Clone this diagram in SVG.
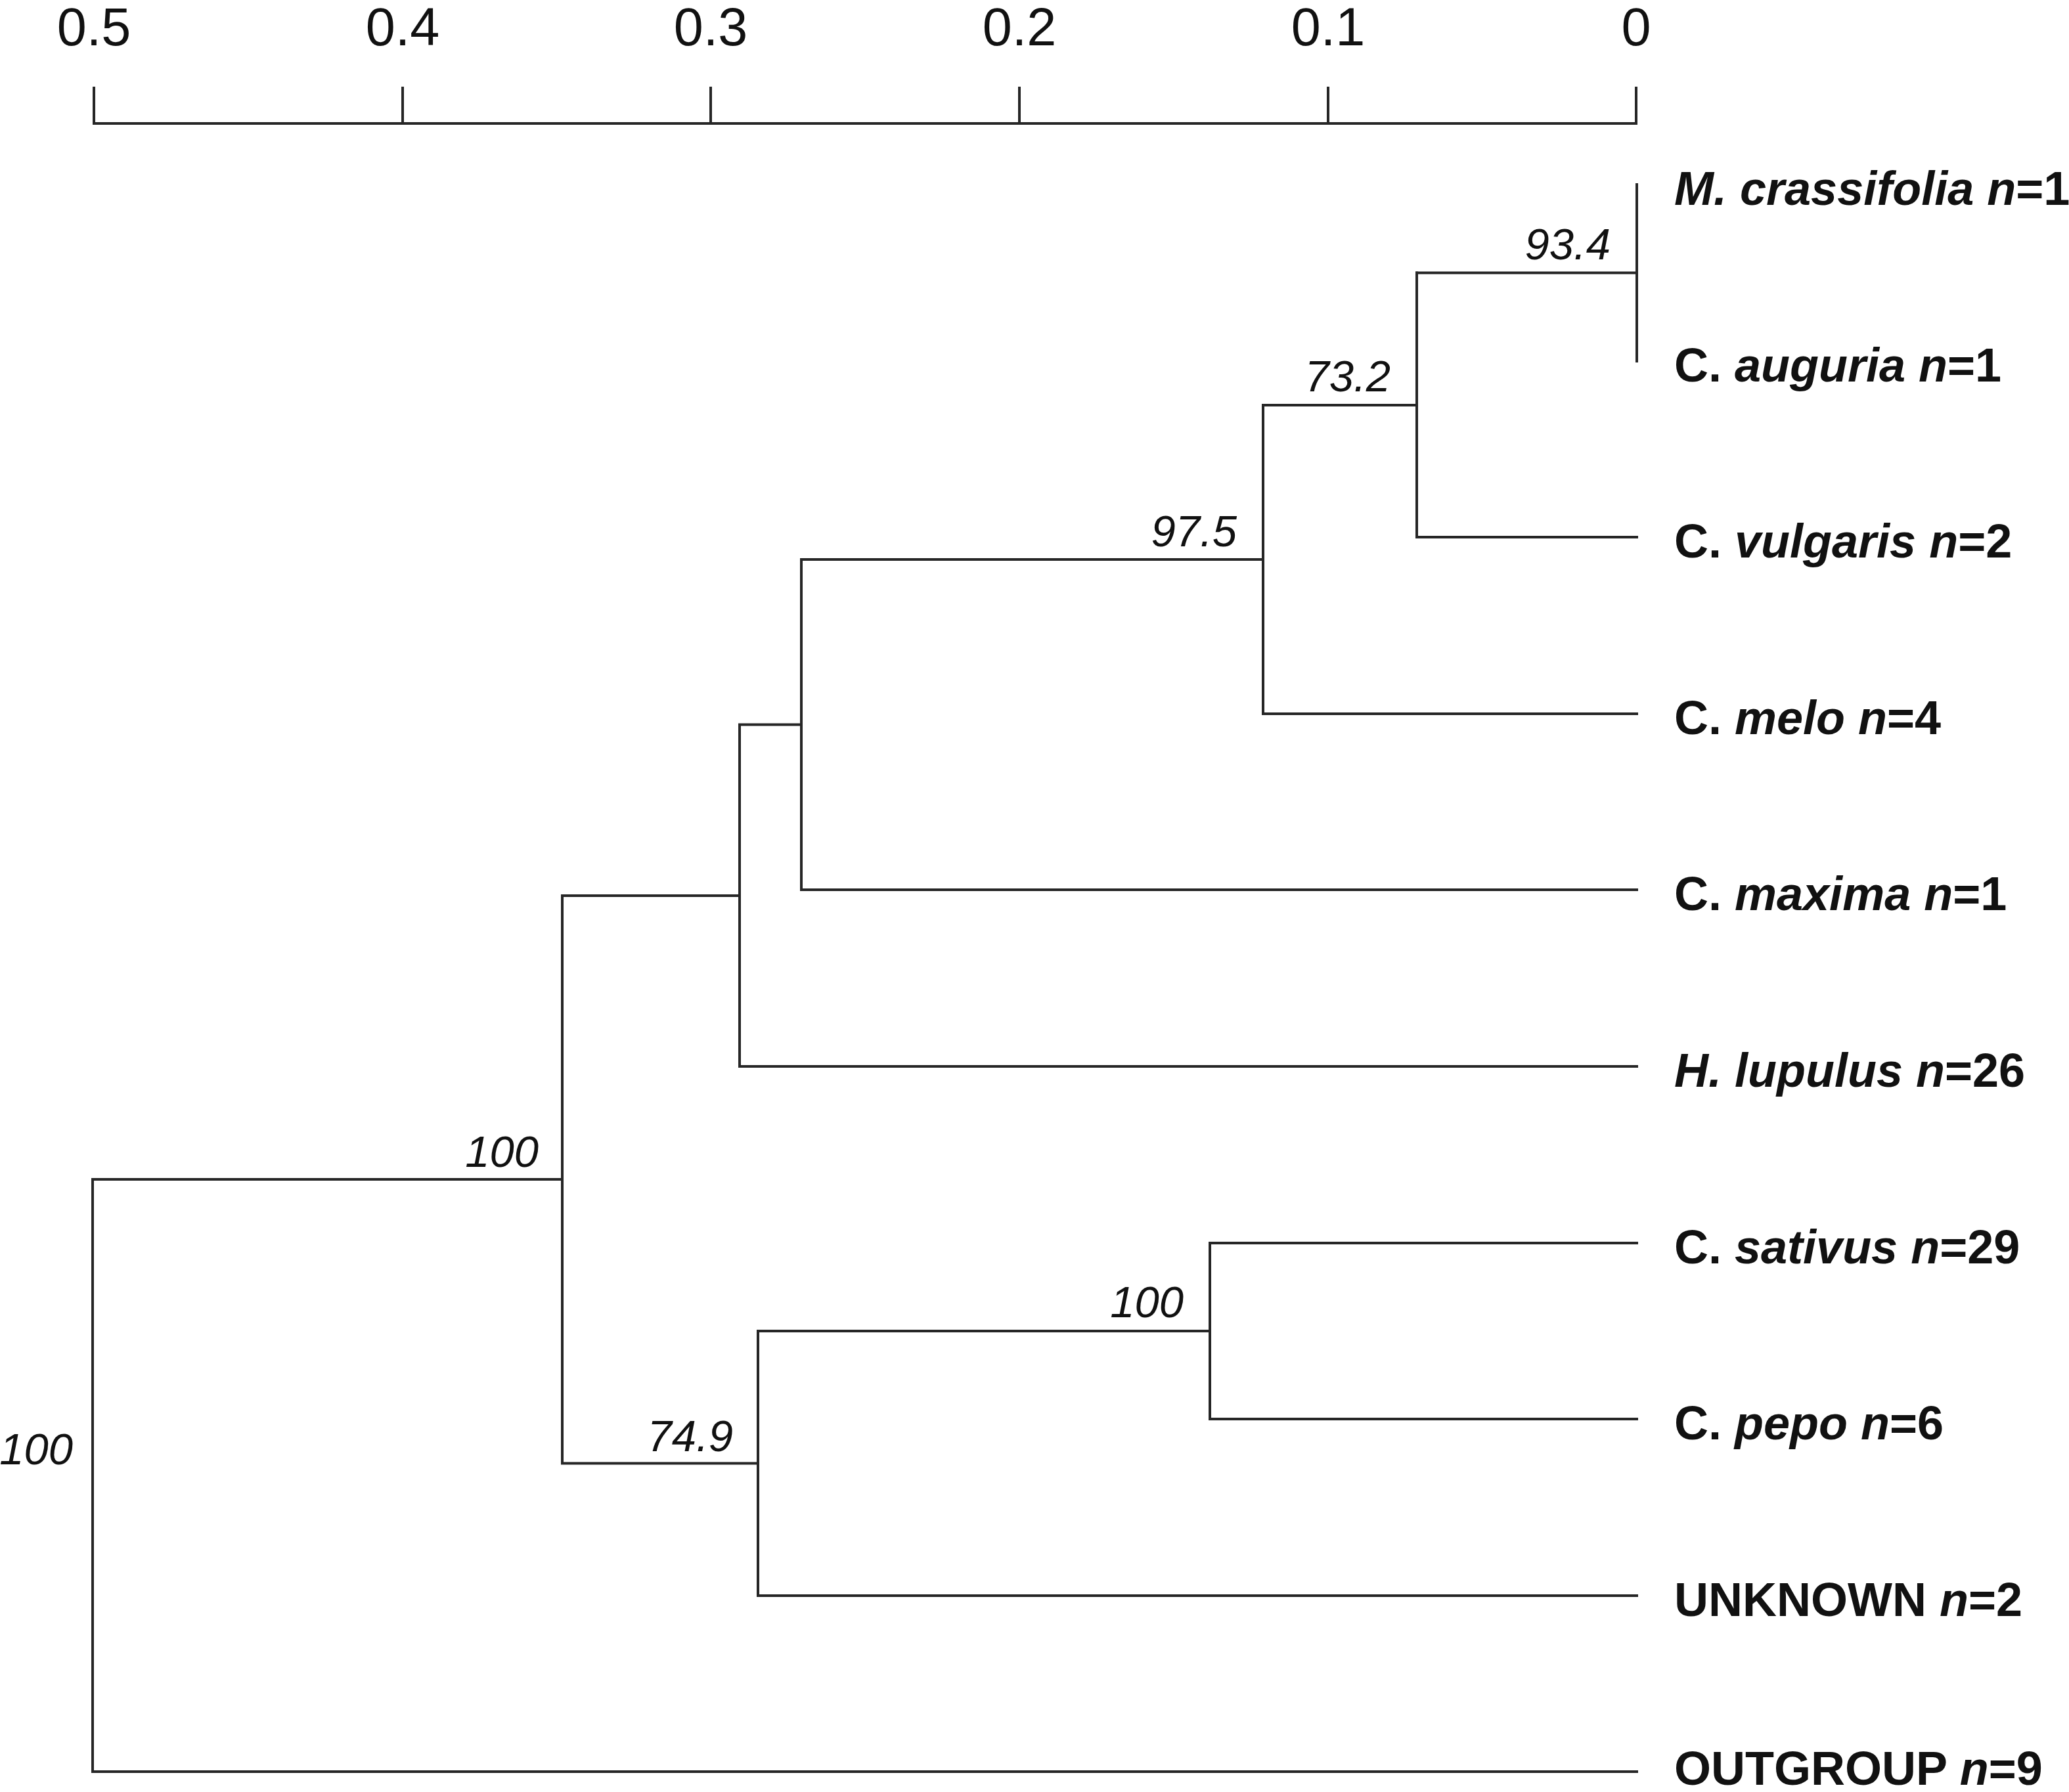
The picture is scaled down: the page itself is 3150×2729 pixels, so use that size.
<svg xmlns="http://www.w3.org/2000/svg" width="3150" height="2729" viewBox="0 0 3150 2729">
<style>
.ln{stroke:#262626;stroke-width:4;fill:none;stroke-linecap:square}
.ax{font-family:"Liberation Sans",Arial,sans-serif;font-size:81px;fill:#111;text-anchor:middle}
.bs{font-family:"Liberation Sans",Arial,sans-serif;font-size:67px;font-style:italic;fill:#111;text-anchor:end}
.lb{font-family:"Liberation Sans",Arial,sans-serif;font-size:72px;font-weight:bold;fill:#111}
.i{font-style:italic}
</style>
<rect width="3150" height="2729" fill="#fff"/>
<g id="axis">
<path class="ln" d="M143 188H2491M143 134V188M613 134V188M1082 134V188M1552 134V188M2022 134V188M2491 134V188"/>
<text class="ax" x="143" y="69">0.5</text>
<text class="ax" x="613" y="69">0.4</text>
<text class="ax" x="1082" y="69">0.3</text>
<text class="ax" x="1552" y="69">0.2</text>
<text class="ax" x="2022" y="69">0.1</text>
<text class="ax" x="2491" y="69">0</text>
</g>
<g id="connectors">
<path class="ln" d="M2492 281V550M2157 415.5H2492"/>
<path class="ln" d="M2157 415.5V818H2492"/>
<path class="ln" d="M1923 617H2157M1923 617V1087H2492"/>
<path class="ln" d="M1220 852H1923M1220 852V1355H2492"/>
<path class="ln" d="M1126 1103.5H1220M1126 1103.5V1624H2492"/>
<path class="ln" d="M856 1364H1126M856 1364V2228.5H1154"/>
<path class="ln" d="M1154 2027V2430H2492M1154 2027H1842"/>
<path class="ln" d="M1842 1893V2161H2492M1842 1893H2492"/>
<path class="ln" d="M141 1796H856M141 1796V2698H2492"/>
</g>
<g id="support">
<text class="bs" x="2452" y="395">93.4</text>
<text class="bs" x="2117" y="596">73.2</text>
<text class="bs" x="1883" y="832">97.5</text>
<text class="bs" x="820" y="1777">100</text>
<text class="bs" x="1802" y="2006">100</text>
<text class="bs" x="1116" y="2210">74.9</text>
<text class="bs" x="111" y="2230">100</text>
</g>
<g id="leaf-m-crassifolia"><text class="lb" x="2549" y="312"><tspan class="i">M. crassifolia n</tspan>=1</text></g>
<g id="leaf-c-auguria"><text class="lb" x="2549" y="581">C. <tspan class="i">auguria n</tspan>=1</text></g>
<g id="leaf-c-vulgaris"><text class="lb" x="2549" y="849">C. <tspan class="i">vulgaris n</tspan>=2</text></g>
<g id="leaf-c-melo"><text class="lb" x="2549" y="1118">C. <tspan class="i">melo n</tspan>=4</text></g>
<g id="leaf-c-maxima"><text class="lb" x="2549" y="1386">C. <tspan class="i">maxima n</tspan>=1</text></g>
<g id="leaf-h-lupulus"><text class="lb" x="2549" y="1655"><tspan class="i">H. lupulus n</tspan>=26</text></g>
<g id="leaf-c-sativus"><text class="lb" x="2549" y="1924">C. <tspan class="i">sativus n</tspan>=29</text></g>
<g id="leaf-c-pepo"><text class="lb" x="2549" y="2192">C. <tspan class="i">pepo n</tspan>=6</text></g>
<g id="leaf-unknown"><text class="lb" x="2549" y="2461">UNKNOWN <tspan class="i">n</tspan>=2</text></g>
<g id="leaf-outgroup"><text class="lb" x="2549" y="2718">OUTGROUP <tspan class="i">n</tspan>=9</text></g>
</svg>
